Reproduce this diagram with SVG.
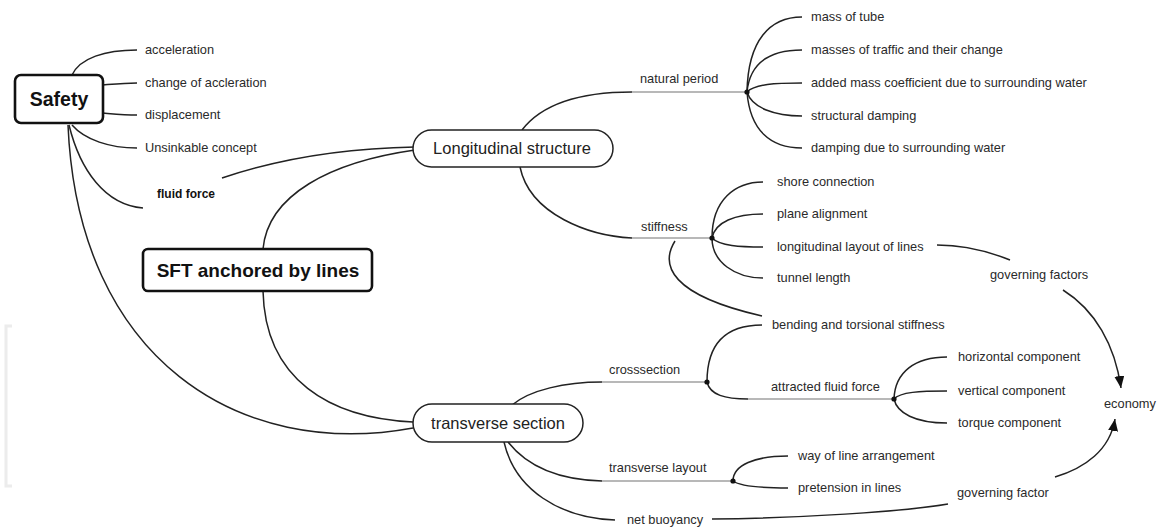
<svg xmlns="http://www.w3.org/2000/svg" width="1159" height="529" viewBox="0 0 1159 529">
<style>
.t{font-family:"Liberation Sans",Arial,sans-serif;font-size:12.8px;fill:#2a2a2a}
.b{font-family:"Liberation Sans",Arial,sans-serif;font-weight:bold;fill:#111}
.n{font-family:"Liberation Sans",Arial,sans-serif;font-size:16.5px;fill:#222}
.c{fill:none;stroke:#222;stroke-width:1.5}
.g{fill:none;stroke:#a0a0a0;stroke-width:1.5}
.box{fill:#fff;stroke:#111;stroke-width:2.6}
.pill{fill:#fff;stroke:#222;stroke-width:1.5}
.dot{fill:#111}
</style>
<defs>
<marker id="arr" markerUnits="userSpaceOnUse" markerWidth="13" markerHeight="10" refX="12" refY="5" orient="auto">
<path d="M0,0 L12,5 L0,10 z" fill="#111"/>
</marker>
</defs>
<rect width="1159" height="529" fill="#fff"/>
<path d="M12,326 L6,326 L6,486 L12,486" fill="none" stroke="#ececec" stroke-width="3"/>
<g id="connectors">
<path class="c" d="M72,75 C80,58 105,50 137,50"/>
<path class="c" d="M103,85 C115,84 125,83 137,83"/>
<path class="c" d="M103,113 C115,114 125,115 137,115"/>
<path class="c" d="M72,125 C85,140 110,148 137,148"/>
<path class="c" d="M69,125 C80,170 105,205 143,208"/>
<path class="c" d="M68,125 C78,360 240,460 413,428"/>
<path class="c" d="M222,178 C290,155 360,148 415,147"/>
<path class="c" d="M415,150 C330,162 268,195 263,249"/>
<path class="c" d="M263,291 C265,380 330,418 413,422"/>
<path class="c" d="M522,130 C545,100 590,92 632,92"/>
<path class="g" d="M632,92 L747,92"/>
<path class="c" d="M747,92 C748,40 770,17 802,17"/>
<path class="c" d="M747,92 C750,62 770,50 802,50"/>
<path class="c" d="M747,92 C755,84 775,83 802,83"/>
<path class="c" d="M747,92 C752,108 775,116 802,116"/>
<path class="c" d="M747,92 C750,130 770,148 802,148"/>
<path class="c" d="M520,167 C530,215 590,236 632,238"/>
<path class="g" d="M632,238 L712,238"/>
<path class="c" d="M712,238 C712,200 735,182 763,182"/>
<path class="c" d="M712,238 C715,222 735,214 763,214"/>
<path class="c" d="M712,238 C720,246 740,247 763,247"/>
<path class="c" d="M712,238 C712,262 735,278 763,278"/>
<path class="c" d="M675,241 C660,265 670,295 762,316"/>
<path class="c" d="M937,245 C965,245 990,252 1010,260"/>
<path class="c" d="M1063,290 C1095,310 1115,345 1121,388" marker-end="url(#arr)"/>
<path class="c" d="M512,405 C530,390 565,382 602,382"/>
<path class="g" d="M602,382 L707,382"/>
<path class="c" d="M707,382 C707,345 725,325 762,325"/>
<path class="c" d="M707,382 C710,395 725,399 748,399"/>
<path class="g" d="M748,399 L894,399"/>
<path class="c" d="M894,399 C895,372 915,357 947,357"/>
<path class="c" d="M894,399 C900,392 920,391 947,391"/>
<path class="c" d="M894,399 C897,413 915,423 947,423"/>
<path class="c" d="M508,442 C530,470 565,480 602,481"/>
<path class="g" d="M602,481 L733,481"/>
<path class="c" d="M733,481 C733,465 755,456 788,456"/>
<path class="c" d="M733,481 C740,486 760,488 788,488"/>
<path class="c" d="M504,442 C515,490 560,518 615,520"/>
<path class="c" d="M712,519 C800,518 900,512 948,504"/>
<path class="c" d="M1055,477 C1085,468 1110,450 1115,419" marker-end="url(#arr)"/>
<circle class="dot" cx="747" cy="92" r="2.6"/>
<circle class="dot" cx="712" cy="238" r="2.6"/>
<circle class="dot" cx="707" cy="382" r="2.6"/>
<circle class="dot" cx="894" cy="399" r="2.6"/>
<circle class="dot" cx="733" cy="481" r="2.6"/>
</g>
<g id="safety"><rect class="box" x="15" y="75" width="88" height="48" rx="6"/><text class="b" x="59" y="106" font-size="19.5" text-anchor="middle">Safety</text></g>
<g id="sft"><rect class="box" x="143" y="249" width="229" height="42" rx="5"/><text class="b" x="258" y="277" font-size="19" text-anchor="middle">SFT anchored by lines</text></g>
<g id="longitudinal"><rect class="pill" x="413" y="130" width="200" height="37" rx="18.5"/><text class="n" x="512" y="154" text-anchor="middle">Longitudinal structure</text></g>
<g id="transverse"><rect class="pill" x="413" y="404" width="170" height="38" rx="19"/><text class="n" x="498" y="429" text-anchor="middle">transverse section</text></g>
<g id="acceleration"><text class="t" x="145" y="54">acceleration</text></g>
<g id="change"><text class="t" x="145" y="87">change of accleration</text></g>
<g id="displacement"><text class="t" x="145" y="119">displacement</text></g>
<g id="unsinkable"><text class="t" x="145" y="152">Unsinkable concept</text></g>
<g id="fluidforce"><text class="b" x="157" y="198" font-size="12">fluid force</text></g>
<g id="naturalperiod"><text class="t" x="640" y="83">natural period</text></g>
<g id="massoftube"><text class="t" x="811" y="21">mass of tube</text></g>
<g id="traffic"><text class="t" x="811" y="54">masses of traffic and their change</text></g>
<g id="addedmass"><text class="t" x="811" y="87">added mass coefficient due to surrounding water</text></g>
<g id="structdamping"><text class="t" x="811" y="120">structural damping</text></g>
<g id="waterdamping"><text class="t" x="811" y="152">damping due to surrounding water</text></g>
<g id="stiffness"><text class="t" x="641" y="231">stiffness</text></g>
<g id="shore"><text class="t" x="777" y="186">shore connection</text></g>
<g id="plane"><text class="t" x="777" y="218">plane alignment</text></g>
<g id="longlayout"><text class="t" x="777" y="251">longitudinal layout of lines</text></g>
<g id="tunnel"><text class="t" x="777" y="282">tunnel length</text></g>
<g id="governingfactors"><text class="t" x="990" y="279">governing factors</text></g>
<g id="bending"><text class="t" x="772" y="329">bending and torsional stiffness</text></g>
<g id="crosssection"><text class="t" x="609" y="374">crosssection</text></g>
<g id="attracted"><text class="t" x="771" y="391">attracted fluid force</text></g>
<g id="horizontal"><text class="t" x="958" y="361">horizontal component</text></g>
<g id="vertical"><text class="t" x="958" y="395">vertical component</text></g>
<g id="torque"><text class="t" x="958" y="427">torque component</text></g>
<g id="economy"><text class="t" x="1104" y="408">economy</text></g>
<g id="translayout"><text class="t" x="609" y="472">transverse layout</text></g>
<g id="way"><text class="t" x="798" y="460">way of line arrangement</text></g>
<g id="pretension"><text class="t" x="798" y="492">pretension in lines</text></g>
<g id="netbuoyancy"><text class="t" x="627" y="524">net buoyancy</text></g>
<g id="governingfactor"><text class="t" x="957" y="497">governing factor</text></g>
</svg>
